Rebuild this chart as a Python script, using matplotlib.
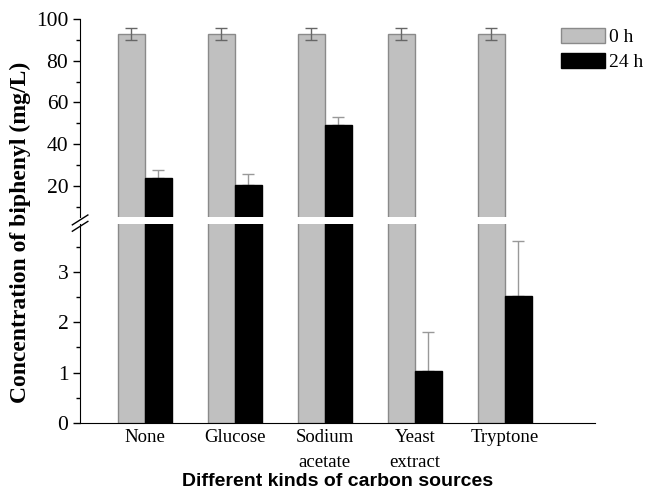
import numpy as np
import matplotlib
matplotlib.use("Agg")
import matplotlib.pyplot as plt
from matplotlib.ticker import MultipleLocator

categories = ["None", "Glucose", "Sodium\nacetate", "Yeast\nextract", "Tryptone"]
conc_0h = [93.0, 93.0, 93.0, 93.0, 93.0]
err_0h = [3.0, 3.0, 3.0, 3.0, 3.0]
conc_24h = [23.5, 20.5, 49.0, 1.03, 2.52]
err_24h = [4.2, 5.0, 4.0, 0.78, 1.1]

serif = "Liberation Serif"
plt.rcParams["font.family"] = serif

fig = plt.figure(figsize=(6.46, 4.92), dpi=100)
ax_top = fig.add_axes([0.124, 0.559, 0.797, 0.402])
ax_bot = fig.add_axes([0.124, 0.140, 0.797, 0.405])

x = np.arange(len(categories))
w = 0.3

for ax in (ax_top, ax_bot):
    ax.bar(x - w / 2, conc_0h, w, color="#c0c0c0", edgecolor="#8a8a8a",
           linewidth=1, label="0 h", zorder=2)
    ax.bar(x + w / 2, conc_24h, w, color="black", edgecolor="black",
           linewidth=1, label="24 h", zorder=2)
    ax.errorbar(x - w / 2, conc_0h, yerr=err_0h, fmt="none", ecolor="#666666",
                elinewidth=1, capsize=4, capthick=1, zorder=3)
    ax.errorbar(x + w / 2, conc_24h, yerr=[np.zeros(len(x)), err_24h], fmt="none",
                ecolor="#999999", elinewidth=1, capsize=4, capthick=1, zorder=1)
    ax.set_xlim(-0.72, 5.0)
    ax.spines["top"].set_visible(False)
    ax.spines["right"].set_visible(False)
    ax.tick_params(axis="y", direction="out", length=5, width=1, labelsize=15.5)
    ax.tick_params(axis="y", which="minor", direction="out", length=3, width=1)
    ax.tick_params(axis="x", length=0)

ax_top.set_ylim(5, 100)
ax_top.yaxis.set_major_locator(MultipleLocator(20))
ax_top.yaxis.set_minor_locator(MultipleLocator(10))
ax_top.set_yticks([20, 40, 60, 80, 100])
ax_top.spines["bottom"].set_visible(False)
ax_top.set_xticks([])

ax_bot.set_ylim(0, 3.95)
ax_bot.yaxis.set_major_locator(MultipleLocator(1))
ax_bot.yaxis.set_minor_locator(MultipleLocator(0.5))
ax_bot.set_xticks(x)
ax_bot.set_xticklabels(categories, fontsize=13.5, linespacing=1.62)
ax_bot.tick_params(axis="x", pad=4)

# break marks on the left spine
for yb in (0.553, 0.540):
    fig.add_artist(plt.Line2D([0.112, 0.136], [yb - 0.01, yb + 0.01],
                              color="black", linewidth=1, transform=fig.transFigure))

fig.text(0.523, 0.022, "Different kinds of carbon sources", ha="center", va="center",
         fontsize=14, fontweight="bold", family="Liberation Sans")
fig.text(0.031, 0.528, "Concentration of biphenyl (mg/L)", rotation=90,
         va="center", ha="center", fontsize=17, fontweight="bold")

handles, labels = ax_top.get_legend_handles_labels()
fig.legend(handles, labels, loc="upper left", bbox_to_anchor=(0.869, 0.943),
           frameon=False, fontsize=14, handlelength=2.25, handleheight=0.8,
           handletextpad=0.2, labelspacing=0.35, borderpad=0, borderaxespad=0)

fig.savefig("out.png", dpi=100)
